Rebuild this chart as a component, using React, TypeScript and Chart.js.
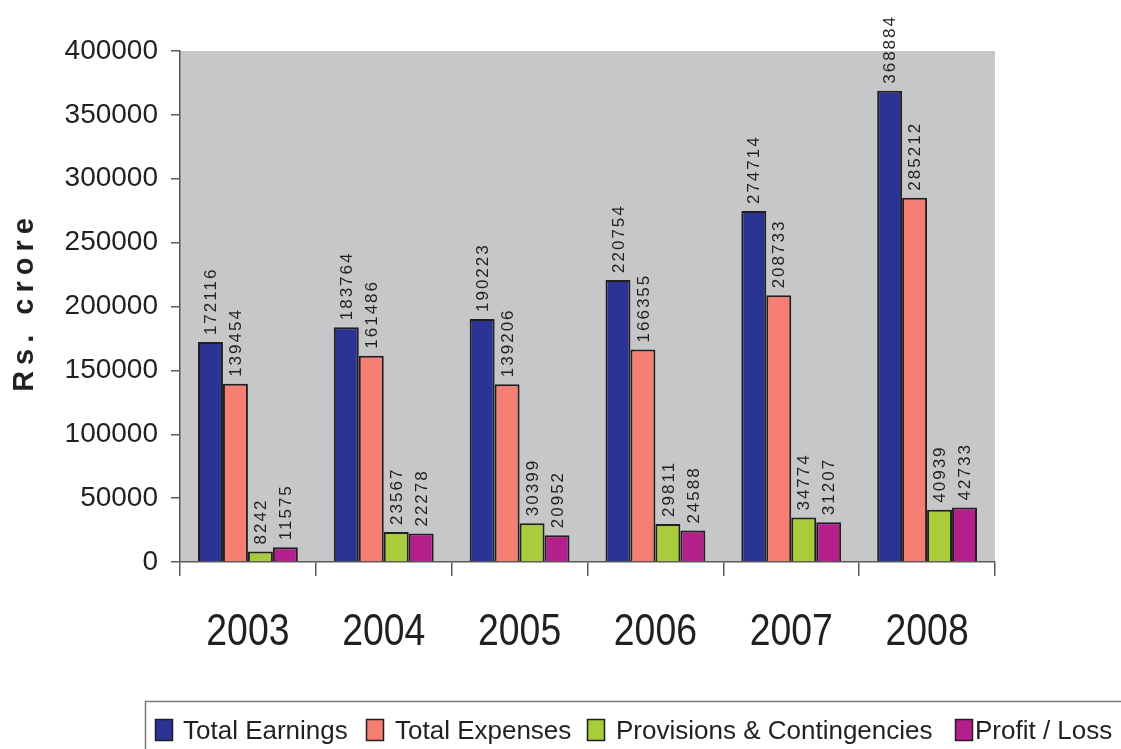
import React, { useEffect, useRef } from "react";
import { Chart, registerables } from "chart.js";

Chart.register(...registerables);

const years = ["2003", "2004", "2005", "2006", "2007", "2008"];
const totalEarnings = [172116, 183764, 190223, 220754, 274714, 368884];
const totalExpenses = [139454, 161486, 139206, 166355, 208733, 285212];
const provisions = [8242, 23567, 30399, 29811, 34774, 40939];
const profitLoss = [11575, 22278, 20952, 24588, 31207, 42733];
const seriesNames = ["Total Earnings", "Total Expenses", "Provisions & Contingencies", "Profit / Loss"];
const seriesColors = ["#2b3394", "#f47f72", "#a8cc3a", "#b41f8c"];
const yTitle = "Rs. crore";

const FONT = '"Liberation Sans", Arial, sans-serif';
const TEXT = "#231f20";

const bgPlugin = {
  id: "bgPlugin",
  beforeDraw(chart: any) {
    const { ctx, chartArea } = chart;
    ctx.save();
    ctx.fillStyle = "#ffffff";
    ctx.fillRect(0, 0, chart.width, chart.height);
    ctx.fillStyle = "#c6c7c9";
    ctx.fillRect(chartArea.left, chartArea.top, chartArea.right - chartArea.left, chartArea.bottom - chartArea.top);
    ctx.restore();
  },
};

const labelsPlugin = {
  id: "labelsPlugin",
  afterDatasetsDraw(chart: any) {
    const { ctx } = chart;
    ctx.save();
    ctx.font = `17px ${FONT}`;
    (ctx as any).letterSpacing = "2px";
    ctx.fillStyle = TEXT;
    chart.data.datasets.forEach((ds: any, di: number) => {
      const meta = chart.getDatasetMeta(di);
      meta.data.forEach((bar: any, i: number) => {
        const v = ds.data[i];
        ctx.save();
        ctx.translate(bar.x + 1, bar.y - 7);
        ctx.rotate(-Math.PI / 2);
        ctx.textAlign = "left";
        ctx.textBaseline = "middle";
        ctx.fillText(String(v), 0, 0);
        ctx.restore();
      });
    });
    ctx.restore();
  },
  afterDraw(chart: any) {
    const { ctx } = chart;
    const xs = chart.scales.x;
    // x category labels
    ctx.save();
    ctx.font = `44px ${FONT}`;
    ctx.fillStyle = TEXT;
    ctx.textAlign = "center";
    ctx.textBaseline = "alphabetic";
    years.forEach((y, i) => {
      const x = xs.getPixelForValue(i);
      ctx.save();
      ctx.translate(x, 645);
      ctx.scale(0.85, 1);
      ctx.fillText(y, 0, 0);
      ctx.restore();
    });
    ctx.restore();

    // y title
    ctx.save();
    ctx.font = `bold 29px ${FONT}`;
    (ctx as any).letterSpacing = "6px";
    ctx.fillStyle = TEXT;
    ctx.translate(33, 305);
    ctx.rotate(-Math.PI / 2);
    const tw = ctx.measureText(yTitle).width - 6;
    ctx.textAlign = "left";
    ctx.textBaseline = "alphabetic";
    ctx.fillText(yTitle, -tw / 2, 0);
    ctx.restore();

    // legend
    ctx.save();
    ctx.strokeStyle = "#7a7a7a";
    ctx.lineWidth = 1.5;
    ctx.strokeRect(145.5, 701.5, 1100, 100);
    const sqX = [155, 366, 587, 955];
    const txtOff = [28, 29, 29, 20];
    ctx.font = `26px ${FONT}`;
    ctx.textBaseline = "alphabetic";
    ctx.textAlign = "left";
    seriesNames.forEach((n, i) => {
      ctx.fillStyle = seriesColors[i];
      ctx.fillRect(sqX[i], 719, 17, 21);
      ctx.strokeStyle = TEXT;
      ctx.lineWidth = 1.5;
      ctx.strokeRect(sqX[i] + 0.5, 719.5, 17, 21);
      ctx.fillStyle = TEXT;
      ctx.fillText(n, sqX[i] + txtOff[i], 739);
    });
    ctx.restore();
  },
};

export default function App() {
  const ref = useRef<HTMLCanvasElement>(null);
  useEffect(() => {
    if (!ref.current) return;
    const datasets = [totalEarnings, totalExpenses, provisions, profitLoss].map((d, i) => ({
      label: seriesNames[i],
      data: d,
      backgroundColor: seriesColors[i],
      borderColor: TEXT,
      borderWidth: 2,
      categoryPercentage: 0.735,
      barPercentage: 1,
    }));
    const chart = new Chart(ref.current, {
      type: "bar",
      data: { labels: years, datasets },
      plugins: [bgPlugin, labelsPlugin],
      options: {
        responsive: false,
        animation: false,
        layout: { padding: { top: 51, right: 126, bottom: 0, left: 0 } },
        plugins: { legend: { display: false }, tooltip: { enabled: false } },
        scales: {
          x: {
            afterFit: (s: any) => {
              s.height = 187;
            },
            grid: {
              offset: true,
              drawOnChartArea: false,
              drawTicks: true,
              tickLength: 14,
              color: "#5a5a5a",
              lineWidth: 1.5,
            },
            border: { display: true, color: "#5a5a5a", width: 1.5 },
            ticks: { display: false },
          },
          y: {
            min: 0,
            max: 400000,
            afterFit: (s: any) => {
              s.width = 180;
            },
            grid: {
              drawOnChartArea: false,
              drawTicks: true,
              tickLength: 9,
              color: "#5a5a5a",
              lineWidth: 1.5,
            },
            border: { display: true, color: "#5a5a5a", width: 1.5 },
            ticks: {
              stepSize: 50000,
              padding: 13,
              color: TEXT,
              font: { family: FONT, size: 28 },
              callback: (v: any) => String(v),
            },
          },
        },
      },
    });
    return () => chart.destroy();
  }, []);
  return (
    <div style={{ position: "fixed", left: 0, top: 0, width: 1121, height: 749 }}>
      <canvas ref={ref} width={1121} height={749} style={{ width: 1121, height: 749 }} />
    </div>
  );
}
